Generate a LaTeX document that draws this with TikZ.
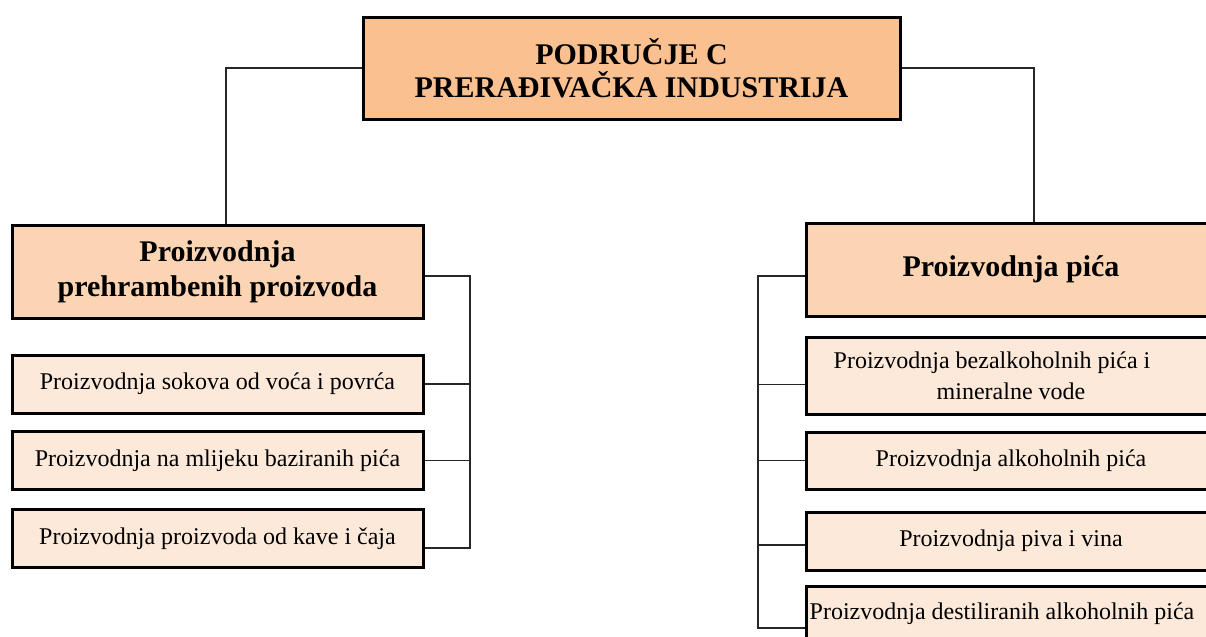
\documentclass[tikz,border=0pt]{standalone}
\usepackage{fontspec}
\setmainfont{Liberation Serif}
\definecolor{cTitle}{HTML}{FAC08F}
\definecolor{cHead}{HTML}{FBD4B4}
\definecolor{cItem}{HTML}{FDE9D9}
\tikzset{
  box/.style={draw=black, line width=1.5pt, inner sep=0pt, align=center},
  titlebox/.style={box, fill=cTitle, minimum width=268.5pt, minimum height=51pt,
     font=\fontsize{15}{16.5}\selectfont\bfseries},
  headbox/.style={box, fill=cHead, minimum width=205.5pt, minimum height=46.5pt,
     font=\fontsize{15}{17.5}\selectfont\bfseries},
  itembox/.style={box, fill=cItem, minimum width=205.5pt, minimum height=29pt,
     font=\fontsize{12}{15.5}\selectfont},
  link/.style={draw=black!85, line width=0.9pt},
}
\begin{document}
\begin{tikzpicture}[x=0.5pt, y=-0.5pt]
\useasboundingbox (0,0) rectangle (1206,637);
\clip (0,0) rectangle (1206,637);
\fill[white] (0,0) rectangle (1206,637);

% title
\node[titlebox] (title) at (631.5,68) {PODRUČJE C\\PRERAĐIVAČKA INDUSTRIJA};

% left branch
\node[headbox] (lh) at (217.5,271.5) {Proizvodnja\\prehrambenih proizvoda};
\node[itembox] (l1) at (217.5,384) {Proizvodnja sokova od voća i povrća};
\node[itembox] (l2) at (217.5,460.5) {Proizvodnja na mlijeku baziranih pića};
\node[itembox] (l3) at (217.5,538.5) {Proizvodnja proizvoda od kave i čaja};

% right branch
\node[headbox, minimum width=205pt] (rh) at (1011,269.5) {Proizvodnja pića};
\node[itembox, minimum width=205pt, minimum height=38.5pt] (r1) at (1011,375.5)
  {Proizvodnja bezalkoholnih pića i\hspace*{19pt}\\mineralne vode};
\node[itembox, minimum width=205pt, minimum height=28.5pt] (r2) at (1011,460.5) {Proizvodnja alkoholnih pića};
\node[itembox, minimum width=205pt] (r3) at (1011,541) {Proizvodnja piva i vina};
\node[itembox, minimum width=205pt, minimum height=42pt] (r4) at (1011,628) {};
\node[font=\fontsize{12}{15.5}\selectfont, inner sep=0pt] (r4t) at (1002,614) {Proizvodnja destiliranih alkoholnih pića};

% connectors from title
\draw[link] (title.west) -| ([xshift=4.25pt]lh.north);
\draw[link] (title.east) -| ([xshift=11.5pt]rh.north);

% left bracket
\coordinate (lbot) at (470,548);
\draw[link] ([yshift=-2.25pt]lh.east) -| (lbot) -- ([yshift=-4.75pt]l3.east);
\draw[link] (l1.east) -- (l1.east -| lbot);
\draw[link] (l2.east) -- (l2.east -| lbot);

% right bracket
\coordinate (rbot) at (758,628);
\draw[link] ([yshift=-3.25pt]rh.west) -| (rbot) -- (r4.west);
\draw[link] ([yshift=-4.5pt]r1.west) -- ([yshift=-4.5pt]r1.west -| rbot);
\draw[link] (r2.west) -- (r2.west -| rbot);
\draw[link] ([yshift=-2pt]r3.west) -- ([yshift=-2pt]r3.west -| rbot);
\end{tikzpicture}
\end{document}
